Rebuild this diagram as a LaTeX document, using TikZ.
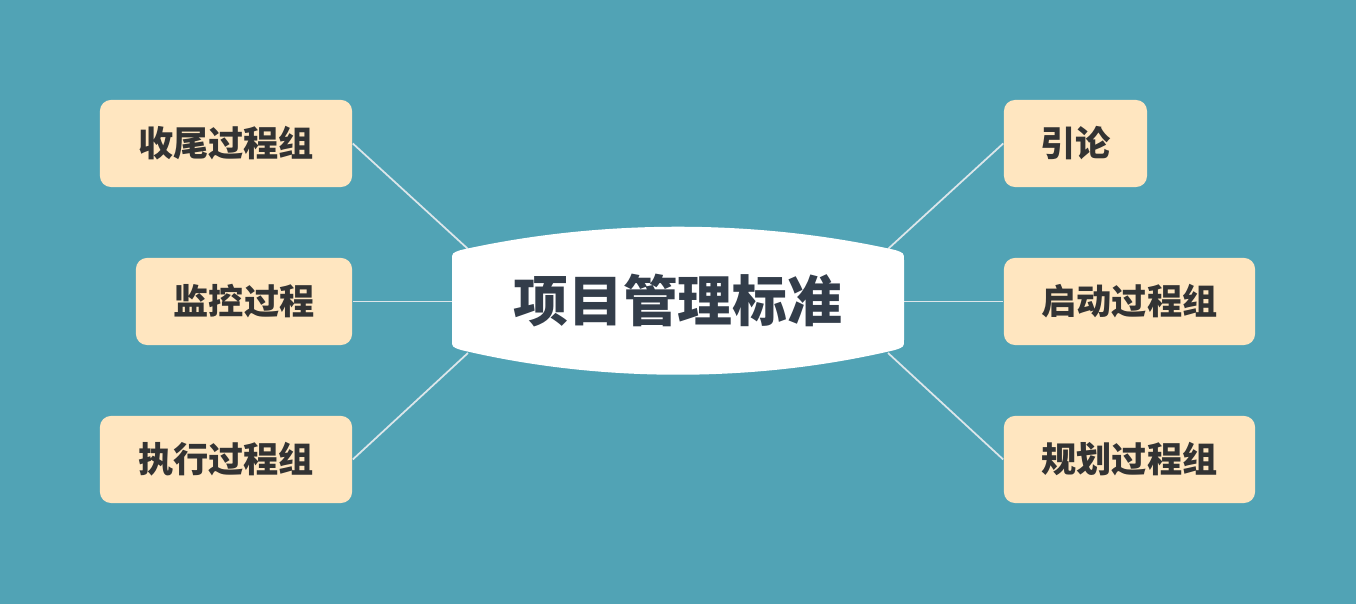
\documentclass[tikz,border=0pt]{standalone}
\usepackage{fontspec}
\setmainfont{Noto Sans CJK SC}
\definecolor{bgteal}{HTML}{51A3B5}
\definecolor{boxfill}{HTML}{FFE6C0}
\definecolor{boxtext}{HTML}{333333}
\definecolor{coretext}{HTML}{333D4A}
\definecolor{linkgray}{HTML}{DCE6EA}

\begin{document}
\begin{tikzpicture}[x=0.01cm, y=0.01cm,
    topic/.style={fill=boxfill, rounded corners=0.11cm, minimum height=0.87cm,
        inner sep=0pt, text=boxtext, font=\bfseries\fontsize{10pt}{10pt}\selectfont},
    link/.style={draw=linkgray, line width=0.5pt}]
    \fill[bgteal] (0,0) rectangle (1356,604);
    \useasboundingbox (0,0) rectangle (1356,604);

    \node[topic, minimum width=2.52cm] (close) at (226,460.5) {收尾过程组};
    \node[topic, minimum width=2.16cm] (monitor) at (244,302.5) {监控过程};
    \node[topic, minimum width=2.52cm] (execute) at (226,144.5) {执行过程组};
    \node[topic, minimum width=1.43cm] (intro) at (1075.5,460.5) {引论};
    \node[topic, minimum width=2.51cm] (initiate) at (1129.5,302.5) {启动过程组};
    \node[topic, minimum width=2.51cm] (plan) at (1129.5,144.5) {规划过程组};

    \coordinate (core-nw) at (468,355);
    \coordinate (core-w) at (452,302.5);
    \coordinate (core-sw) at (468,251);
    \coordinate (core-ne) at (888,355);
    \coordinate (core-e) at (904,302.5);
    \coordinate (core-se) at (888,251);

    \draw[link] (close.east) -- (core-nw);
    \draw[link] (monitor.east) -- (core-w);
    \draw[link] (execute.east) -- (core-sw);
    \draw[link] (intro.west) -- (core-ne);
    \draw[link] (initiate.west) -- (core-e);
    \draw[link] (plan.west) -- (core-se);

    \fill[white] (452,264) -- (452,344) .. controls (452,351) .. (461,354)
        .. controls (600,385) and (756,385) .. (895,354)
        .. controls (904,351) .. (904,344) -- (904,264)
        .. controls (904,257) .. (895,254)
        .. controls (756,221) and (600,221) .. (461,254)
        .. controls (452,257) .. (452,264) -- cycle;
    \node[text=coretext, font=\bfseries\fontsize{15.6pt}{15.6pt}\selectfont] (core) at (678,303) {项目管理标准};
\end{tikzpicture}
\end{document}
